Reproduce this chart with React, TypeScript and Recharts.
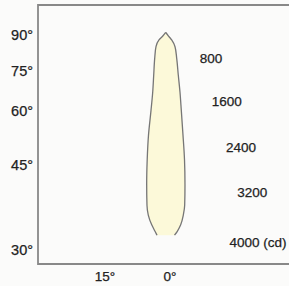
import React from 'react';
import { ComposedChart, Area, XAxis, YAxis, ReferenceArea, ReferenceDot } from 'recharts';

// Vertical position of each outline row (tangent-type scale: 0 = 90°, 1 = 45°)
const verticalPos = [-0.02, 0.008, 0.038, 0.09, 0.18, 0.31, 0.44, 0.58, 0.77, 0.96, 1.15, 1.31, 1.385, 1.46, 1.51, 1.54];
// Horizontal extent of the beam outline (degrees, positive = left)
const leftEdge = [0.53, 1.2, 2.08, 2.77, 3.07, 3.3, 3.53, 3.92, 4.5, 4.8, 4.92, 4.85, 4.55, 3.76, 3.0, 2.54];
const rightEdge = [0.53, -0.12, -0.85, -1.62, -2.01, -2.38, -2.77, -3.07, -3.46, -3.81, -3.92, -3.85, -3.53, -2.93, -2.15, -1.5];

const yTickValues = [0, 0.275, 0.582, 1.0, 1.654];
const yTickLabels = ['90°', '75°', '60°', '45°', '30°'];
const xTickValues = [15, 0];
const xTickLabels = ['15°', '0°'];

const cdLabels = ['800', '1600', '2400', '3200', '4000 (cd)'];
const cdLabelX = [-9.92, -13.55, -16.85, -19.45, -20.77];
const cdLabelY = [0.177, 0.513, 0.862, 1.209, 1.596];

const X_DOMAIN: [number, number] = [-30, 30];
const Y_DOMAIN: [number, number] = [-0.2308, 1.7615];

const shapeRows = verticalPos.map((y, i) => ({ y, range: [rightEdge[i], leftEdge[i]] }));

const FONT = '"Liberation Sans", Arial, Helvetica, sans-serif';
const TEXT = '#222';

export default function App() {
  return (
    <div style={{ position: 'absolute', left: 0, top: 0, width: 289, height: 286, overflow: 'hidden', background: '#fbfbfa' }}>
      <ComposedChart
        layout="vertical"
        width={300}
        height={286}
        data={shapeRows}
        margin={{ top: 5, right: 2, bottom: 0, left: 0 }}
        style={{ fontFamily: FONT }}
      >
        <XAxis
          type="number"
          domain={X_DOMAIN}
          allowDataOverflow
          reversed
          ticks={xTickValues}
          interval={0}
          tickFormatter={(v: number) => xTickLabels[xTickValues.indexOf(v)]}
          axisLine={false}
          tickLine={false}
          tickSize={5}
          height={22}
          tick={{ fill: TEXT, stroke: TEXT, strokeWidth: 0.25, fontSize: 13.5, dx: 2 }}
        />
        <YAxis
          type="number"
          dataKey="y"
          domain={Y_DOMAIN}
          allowDataOverflow
          ticks={yTickValues}
          interval={0}
          tickFormatter={(v: number) => yTickLabels[yTickValues.indexOf(v)]}
          axisLine={false}
          tickLine={false}
          tickSize={2}
          tickMargin={3}
          width={38}
          tick={{ fill: TEXT, stroke: TEXT, strokeWidth: 0.25, fontSize: 14.5 }}
        />
        <Area
          dataKey="range"
          type="monotone"
          fill="#fcf9d9"
          fillOpacity={1}
          stroke="#767676"
          strokeWidth={1.3}
          isAnimationActive={false}
          dot={false}
          activeDot={false}
        />
        <ReferenceArea
          x1={X_DOMAIN[0]}
          x2={X_DOMAIN[1]}
          y1={Y_DOMAIN[0]}
          y2={Y_DOMAIN[1]}
          fill="none"
          stroke="#888"
          strokeWidth={1.8}
          ifOverflow="visible"
        />
        {cdLabels.map((t, i) => (
          <ReferenceDot
            key={t}
            x={cdLabelX[i]}
            y={cdLabelY[i]}
            r={0}
            fill="none"
            stroke="none"
            ifOverflow="visible"
            label={{ value: t, position: 'center', fill: TEXT, stroke: TEXT, strokeWidth: 0.25, fontSize: 13.5, fontFamily: FONT }}
          />
        ))}
      </ComposedChart>
    </div>
  );
}
